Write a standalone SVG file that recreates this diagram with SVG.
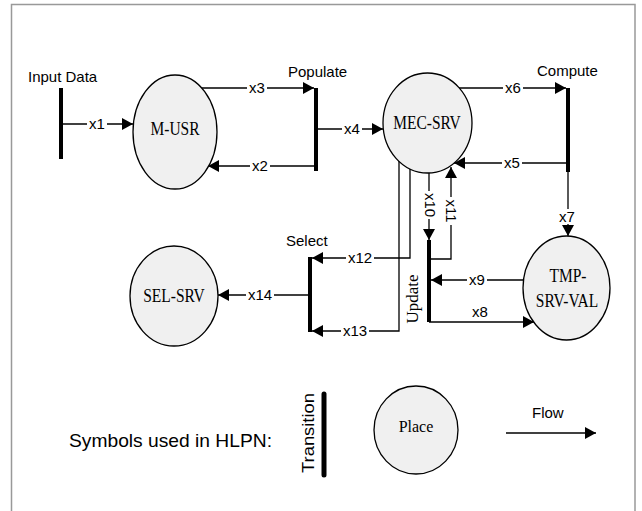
<svg xmlns="http://www.w3.org/2000/svg" width="642" height="511" viewBox="0 0 642 511">
<style>
.edge{fill:none;stroke:#000;stroke-width:1.3}
.bar{stroke:#000;stroke-width:4}
.place{fill:#f0f0f0;stroke:#000;stroke-width:1.3}
.lbl{font-family:"Liberation Sans",Arial,sans-serif;font-size:15px;text-anchor:middle;fill:#000}
.name{font-family:"Liberation Sans",Arial,sans-serif;font-size:15px;fill:#000}
.srf{font-family:"Liberation Serif","Times New Roman",serif;font-size:15.5px;text-anchor:middle;fill:#000}
.bg{fill:#fff}
</style>
<defs>
<marker id="ah" viewBox="0 0 11 12" refX="11" refY="6" markerWidth="11" markerHeight="12" markerUnits="userSpaceOnUse" orient="auto"><path d="M0,0 L11,6 L0,12 z" fill="#000"/></marker>
</defs>
<rect x="0" y="0" width="642" height="511" fill="#fff"/>
<rect x="11.5" y="4.5" width="623.5" height="520" fill="none" stroke="#999" stroke-width="1.5"/>

<g id="connectors">
<line class="edge" x1="61" y1="124" x2="133" y2="124" marker-end="url(#ah)"/>
<line class="edge" x1="201" y1="88" x2="314" y2="88" marker-end="url(#ah)"/>
<line class="edge" x1="316" y1="166" x2="208" y2="166" marker-end="url(#ah)"/>
<line class="edge" x1="316" y1="129" x2="383" y2="129" marker-end="url(#ah)"/>
<line class="edge" x1="459" y1="88" x2="566" y2="88" marker-end="url(#ah)"/>
<line class="edge" x1="568" y1="163" x2="454" y2="163" marker-end="url(#ah)"/>
<line class="edge" x1="568" y1="172" x2="568" y2="236" marker-end="url(#ah)"/>
<line class="edge" x1="429" y1="173" x2="429" y2="240" marker-end="url(#ah)"/>
<polyline class="edge" points="431,259 451,259 451,167" marker-end="url(#ah)"/>
<line class="edge" x1="523" y1="280" x2="431" y2="280" marker-end="url(#ah)"/>
<line class="edge" x1="429" y1="322" x2="534" y2="322" marker-end="url(#ah)"/>
<polyline class="edge" points="410,169 410,258 312,258" marker-end="url(#ah)"/>
<polyline class="edge" points="399,161 399,331 312,331" marker-end="url(#ah)"/>
<line class="edge" x1="310" y1="295" x2="218" y2="295" marker-end="url(#ah)"/>

<rect class="bg" x="87" y="117" width="20" height="14"/><text class="lbl" x="97" y="129">x1</text>
<rect class="bg" x="247" y="81" width="20" height="14"/><text class="lbl" x="257" y="93">x3</text>
<rect class="bg" x="250" y="159" width="20" height="14"/><text class="lbl" x="260" y="171">x2</text>
<rect class="bg" x="342" y="122" width="20" height="14"/><text class="lbl" x="352" y="134">x4</text>
<rect class="bg" x="503" y="81" width="20" height="14"/><text class="lbl" x="513" y="93">x6</text>
<rect class="bg" x="502" y="156" width="20" height="14"/><text class="lbl" x="512" y="168">x5</text>
<rect class="bg" x="557" y="209" width="21" height="15"/><text class="lbl" x="567" y="222">x7</text>
<rect class="bg" x="467" y="273" width="20" height="14"/><text class="lbl" x="477" y="285">x9</text>
<text class="lbl" x="480" y="317">x8</text>
<rect class="bg" x="346" y="251" width="28" height="14"/><text class="lbl" x="360" y="263">x12</text>
<rect class="bg" x="341" y="324" width="28" height="14"/><text class="lbl" x="355" y="336">x13</text>
<rect class="bg" x="246" y="288" width="28" height="14"/><text class="lbl" x="260" y="300">x14</text>
<rect class="bg" x="423" y="191" width="14" height="28"/><text class="lbl" transform="translate(430,205) rotate(90)" y="5">x10</text>
<rect class="bg" x="444" y="197" width="14" height="28"/><text class="lbl" transform="translate(451,211) rotate(90)" y="5">x11</text>
</g>

<g id="t-input"><line class="bar" x1="61" y1="88" x2="61" y2="159"/><text class="name" x="28" y="82">Input Data</text></g>
<g id="p-musr"><ellipse class="place" cx="175" cy="132" rx="42" ry="57"/><text class="srf" transform="translate(175,135) scale(1,1.2)">M-USR</text></g>
<g id="t-populate"><line class="bar" x1="316" y1="88" x2="316" y2="171"/><text class="name" x="288" y="77">Populate</text></g>
<g id="p-mecsrv"><ellipse class="place" cx="427.5" cy="123" rx="44.5" ry="50"/><text class="srf" transform="translate(427,129) scale(1,1.2)">MEC-SRV</text></g>
<g id="t-compute"><line class="bar" x1="568" y1="88" x2="568" y2="172"/><text class="name" x="537" y="76">Compute</text></g>
<g id="p-tmp"><ellipse class="place" cx="566.5" cy="288" rx="43.5" ry="52"/><text class="srf" transform="translate(568,282) scale(1,1.2)">TMP-</text><text class="srf" transform="translate(567,307) scale(1,1.2)">SRV-VAL</text></g>
<g id="t-update"><line class="bar" x1="429" y1="240" x2="429" y2="322"/><text class="srf" transform="translate(418,299) rotate(-90)" style="font-size:17px">Update</text></g>
<g id="t-select"><line class="bar" x1="310" y1="257" x2="310" y2="332"/><text class="name" x="286" y="246">Select</text></g>
<g id="p-selsrv"><ellipse class="place" cx="174" cy="296" rx="44" ry="50"/><text class="srf" transform="translate(174,302) scale(1,1.2)">SEL-SRV</text></g>

<g id="legend">
<text class="name" x="69" y="447" style="font-size:19px" textLength="203" lengthAdjust="spacingAndGlyphs">Symbols used in HLPN:</text>
<text class="name" transform="translate(314,473) rotate(-90)" style="font-size:17px" textLength="80" lengthAdjust="spacingAndGlyphs">Transition</text>
<line x1="324" y1="394" x2="324" y2="475" stroke="#000" stroke-width="5" stroke-linecap="round"/>
<ellipse class="place" cx="416" cy="430" rx="42" ry="44"/>
<text class="srf" transform="translate(416,432) scale(1,1.1)" style="font-size:16px">Place</text>
<text class="name" x="532" y="418">Flow</text>
<line class="edge" x1="506" y1="433" x2="596" y2="433" marker-end="url(#ah)"/>
</g>
</svg>
